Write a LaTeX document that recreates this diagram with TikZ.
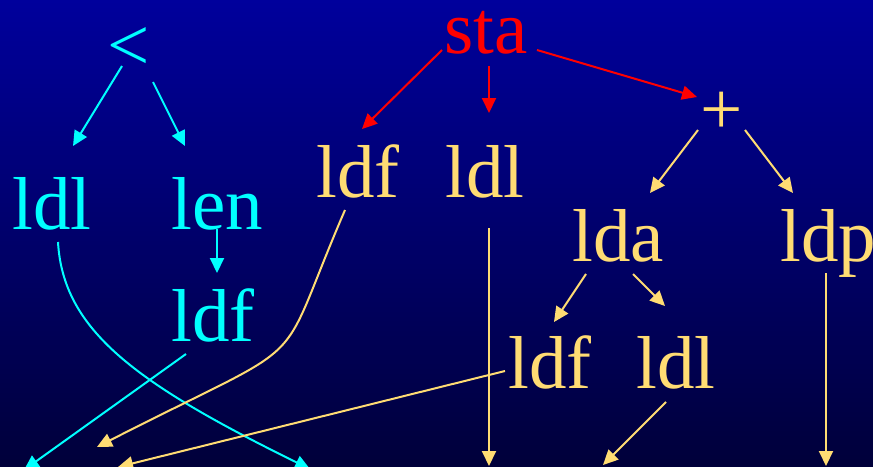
\documentclass[tikz,border=0pt]{standalone}
\usepackage{fontspec}
\setmainfont{Liberation Serif}
\usetikzlibrary{arrows.meta,calc}
\definecolor{bgtop}{RGB}{0,0,156}
\definecolor{bgbot}{RGB}{0,0,58}
\definecolor{cyn}{RGB}{0,255,255}
\definecolor{ylw}{RGB}{255,220,115}
\definecolor{rd}{RGB}{255,0,0}
\tikzset{
  word/.style={inner sep=0pt,outer sep=0pt,anchor=base west,font=\fontsize{75}{75}\selectfont},
  sym/.style={inner sep=0pt,outer sep=0pt,anchor=center,font=\fontsize{75}{75}\selectfont},
  conn/.style={line width=2pt,-{Triangle[length=15pt,width=14pt]}},
  cyconn/.style={conn,draw=cyn},
  ylconn/.style={conn,draw=ylw},
  rdconn/.style={conn,draw=rd},
}
\begin{document}
\begin{tikzpicture}[x=1pt,y=-1pt]
\shade[top color=bgtop,bottom color=bgbot] (0,0) rectangle (873,466);
\useasboundingbox (0,0) rectangle (873,466);
% nodes
\node[sym,text=cyn] (lt) at (129,49) {<};
\node[word,text=cyn] (l1) at (12.6,229) {ldl};
\node[word,text=cyn] (len) at (171.6,229) {len};
\node[word,text=cyn] (f1) at (171.6,341) {ldf};
\node[word,text=rd] (sta) at (444,53) {sta};
\node[word,text=ylw] (f2) at (316.6,197) {ldf};
\node[word,text=ylw] (l2) at (445.6,197) {ldl};
\node[sym,text=ylw] (plus) at (722,113.5) {+};
\node[word,text=ylw] (lda) at (572.6,261) {lda};
\node[word,text=ylw] (ldp) at (780.6,261) {ldp};
\node[word,text=ylw] (f3) at (508.6,388) {ldf};
\node[word,text=ylw] (l3) at (636.6,388) {ldl};
% free ends
\coordinate (b1) at (310,469);
\coordinate (b2) at (24,470);
\coordinate (b3) at (97,447);
\coordinate (b4) at (489,466);
\coordinate (b5) at (118,467);
\coordinate (b6) at (603,465);
\coordinate (b7) at (826,466);
% cyan connectors
\draw[cyconn] ($(lt.center)+(-7,17)$) -- ($(l1.base west)+(60.4,-83)$);
\draw[cyconn] ($(lt.center)+(24,33)$) -- ($(len.base west)+(13.4,-83)$);
\draw[cyconn] ($(len.base west)+(45.4,0)$) -- ($(f1.base west)+(45.4,-68)$);
\draw[cyconn] ($(l1.base west)+(45.4,13)$) .. controls (63,330) and (135,383) .. (b1);
\draw[cyconn] ($(f1.base west)+(14.4,13)$) -- (b2);
% red connectors
\draw[rdconn] ($(sta.base west)+(-2,-3)$) -- ($(f2.base west)+(45.4,-68)$);
\draw[rdconn] ($(sta.base west)+(45,13)$) -- ($(l2.base west)+(43.4,-84)$);
\draw[rdconn] ($(sta.base west)+(93,-3)$) -- ($(plus.center)+(-25,-16.5)$);
% yellow connectors
\draw[ylconn] ($(plus.center)+(-24,16.5)$) -- ($(lda.base west)+(77.4,-68)$);
\draw[ylconn] ($(plus.center)+(23,16.5)$) -- ($(ldp.base west)+(12.4,-68)$);
\draw[ylconn] ($(f2.base west)+(28.4,13)$) .. controls (271.7,379.7) and (321.3,332.3) .. (b3);
\draw[ylconn] ($(l2.base west)+(43.4,31)$) -- (b4);
\draw[ylconn] ($(lda.base west)+(13.4,13)$) -- ($(f3.base west)+(45.4,-66)$);
\draw[ylconn] ($(lda.base west)+(60.4,13)$) -- ($(l3.base west)+(28.4,-82)$);
\draw[ylconn] ($(f3.base west)+(-3.6,-17)$) -- (b5);
\draw[ylconn] ($(l3.base west)+(29.4,14)$) -- (b6);
\draw[ylconn] ($(ldp.base west)+(45.4,12)$) -- (b7);
\end{tikzpicture}
\end{document}
